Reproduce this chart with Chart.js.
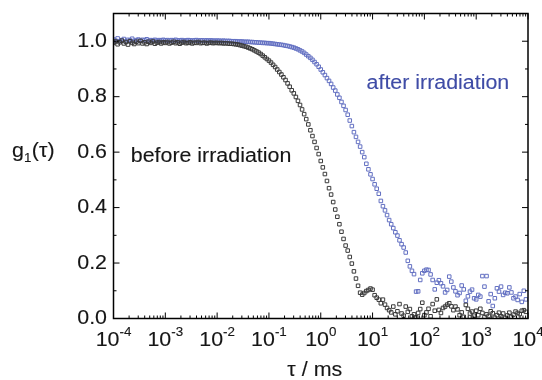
<!DOCTYPE html>
<html>
<head>
<meta charset="utf-8">
<script src="https://cdn.jsdelivr.net/npm/chart.js@4.4.1/dist/chart.umd.min.js"></script>
<style>
  html, body { margin: 0; padding: 0; background: #fff; }
  canvas { display: block; }
</style>
</head>
<body>
<canvas id="c" width="542" height="380"></canvas>
<script>
// ---- DATA ----
// correlator lag times tau / ms
const tau = [
  1.000e-4,1.096e-4,1.202e-4,1.318e-4,1.445e-4,1.585e-4,1.738e-4,1.905e-4,2.089e-4,2.291e-4,2.512e-4,2.754e-4,3.020e-4,3.311e-4,3.631e-4,3.981e-4,4.365e-4,4.786e-4,5.248e-4,5.754e-4,6.310e-4,6.918e-4,7.586e-4,8.318e-4,9.120e-4,
  1.000e-3,1.096e-3,1.202e-3,1.318e-3,1.445e-3,1.585e-3,1.738e-3,1.905e-3,2.089e-3,2.291e-3,2.512e-3,2.754e-3,3.020e-3,3.311e-3,3.631e-3,3.981e-3,4.365e-3,4.786e-3,5.248e-3,5.754e-3,6.310e-3,6.918e-3,7.586e-3,8.318e-3,9.120e-3,
  1.000e-2,1.096e-2,1.202e-2,1.318e-2,1.445e-2,1.585e-2,1.738e-2,1.905e-2,2.089e-2,2.291e-2,2.512e-2,2.754e-2,3.020e-2,3.311e-2,3.631e-2,3.981e-2,4.365e-2,4.786e-2,5.248e-2,5.754e-2,6.310e-2,6.918e-2,7.586e-2,8.318e-2,9.120e-2,
  1.000e-1,1.096e-1,1.202e-1,1.318e-1,1.445e-1,1.585e-1,1.738e-1,1.905e-1,2.089e-1,2.291e-1,2.512e-1,2.754e-1,3.020e-1,3.311e-1,3.631e-1,3.981e-1,4.365e-1,4.786e-1,5.248e-1,5.754e-1,6.310e-1,6.918e-1,7.586e-1,8.318e-1,9.120e-1,
  1.000,1.096,1.202,1.318,1.445,1.585,1.738,1.905,2.089,2.291,2.512,2.754,3.020,3.311,3.631,3.981,4.365,4.786,5.248,5.754,6.310,6.918,7.586,8.318,9.120,
  10.00,10.96,12.02,13.18,14.45,15.85,17.38,19.05,20.89,22.91,25.12,27.54,30.20,33.11,36.31,39.81,43.65,47.86,52.48,57.54,63.10,69.18,75.86,83.18,91.20,
  100.0,109.6,120.2,131.8,144.5,158.5,173.8,190.5,208.9,229.1,251.2,275.4,302.0,331.1,363.1,398.1,436.5,478.6,524.8,575.4,631.0,691.8,758.6,831.8,912.0,
  1000,1096,1202,1318,1445,1585,1738,1905,2089,2291,2512,2754,3020,3311,3631,3981,4365,4786,5248,5754,6310,6918,7586,8318,9120
];

// g1(tau) before irradiation (black squares)
const gBefore = [
  0.994,0.999,0.989,0.996,1.002,0.992,0.997,0.988,1.000,0.994,0.990,0.998,0.993,1.001,0.992,0.996,0.990,0.998,0.994,0.999,0.991,0.995,0.997,0.992,0.996,
  0.994,0.997,0.992,0.995,0.998,0.993,0.996,0.991,0.995,0.997,0.993,0.994,0.996,0.992,0.995,0.994,0.997,0.993,0.994,0.995,0.992,0.994,0.995,0.993,0.994,
  0.994,0.993,0.994,0.992,0.993,0.992,0.991,0.991,0.990,0.989,0.988,0.986,0.984,0.982,0.980,0.977,0.974,0.971,0.967,0.963,0.959,0.954,0.948,0.942,0.936,
  0.930,0.923,0.915,0.907,0.898,0.889,0.880,0.870,0.860,0.848,0.836,0.823,0.812,0.799,0.785,0.770,0.754,0.737,0.719,0.700,0.679,0.658,0.637,0.615,0.593,
  0.568,0.545,0.521,0.496,0.470,0.447,0.420,0.393,0.367,0.340,0.313,0.287,0.263,0.245,0.222,0.198,0.170,0.144,0.118,0.093,0.086,0.092,0.099,0.103,0.108,
  0.104,0.084,0.075,0.068,0.055,0.068,0.050,0.038,0.030,0.022,0.043,0.015,0.026,0.052,0.018,0.010,0.043,0.024,0.034,0.008,0.015,0.004,0.020,0.034,0.057,
  0.012,0.022,0.035,0.008,0.052,0.028,0.069,0.031,0.020,0.038,0.043,0.050,0.055,0.044,0.030,0.043,0.033,0.012,0.022,0.006,0.049,0.035,0.018,0.025,0.010,
  0.028,0.012,0.035,0.020,0.005,0.015,0.009,0.026,0.019,0.003,0.012,0.021,0.008,0.018,0.002,0.011,0.021,0.006,0.014,0.025,0.020,0.016,0.028,0.030,0.024
];

// g1(tau) after irradiation (blue squares)
const gAfter = [
  1.006,1.002,1.010,1.000,1.004,1.008,0.999,1.005,1.003,1.009,1.001,1.004,1.006,1.002,1.005,1.003,1.007,1.001,1.004,1.003,1.005,1.002,1.004,1.003,1.005,
  1.003,1.004,1.002,1.004,1.003,1.005,1.002,1.003,1.004,1.002,1.003,1.004,1.003,1.002,1.003,1.004,1.002,1.003,1.003,1.002,1.003,1.002,1.003,1.002,1.002,
  1.002,1.002,1.001,1.002,1.001,1.001,1.001,1.000,1.000,1.000,0.999,0.999,0.999,0.998,0.998,0.998,0.997,0.997,0.996,0.996,0.995,0.995,0.994,0.994,0.993,
  0.993,0.992,0.991,0.990,0.989,0.988,0.987,0.986,0.984,0.983,0.981,0.979,0.977,0.974,0.971,0.967,0.963,0.958,0.952,0.946,0.940,0.933,0.925,0.917,0.908,
  0.898,0.888,0.878,0.867,0.857,0.846,0.833,0.822,0.808,0.796,0.781,0.767,0.752,0.735,0.714,0.694,0.672,0.655,0.637,0.620,0.600,0.582,0.558,0.538,0.520,
  0.503,0.484,0.468,0.450,0.424,0.405,0.390,0.373,0.355,0.340,0.326,0.311,0.299,0.282,0.268,0.256,0.238,0.208,0.188,0.172,0.160,0.097,0.098,0.139,0.163,
  0.172,0.176,0.175,0.159,0.139,0.105,0.129,0.138,0.127,0.116,0.094,0.103,0.151,0.133,0.112,0.098,0.084,0.092,0.119,0.105,0.064,0.080,0.097,0.104,0.073,
  0.069,0.085,0.079,0.153,0.115,0.153,0.062,0.088,0.045,0.073,0.109,0.097,0.115,0.085,0.093,0.091,0.112,0.094,0.073,0.079,0.067,0.088,0.060,0.100,0.069
];

// axis ticks / labels
const xTickExponents = [-4, -3, -2, -1, 0, 1, 2, 3, 4];
const yTicks = [0.0, 0.2, 0.4, 0.6, 0.8, 1.0];
const yTickLabels = ['0.0', '0.2', '0.4', '0.6', '0.8', '1.0'];
const yMinorTicks = [0.1, 0.3, 0.5, 0.7, 0.9];
const xMin = 1e-4, xMax = 1e4, yMin = 0, yMax = 1.1;

const seriesNames = ['before irradiation', 'after irradiation'];
const xTitle = 'τ / ms';

// ---- STYLE ----
const FONT = '"Liberation Sans", Arial, Helvetica, sans-serif';
const SX = 1.07;         // horizontal stretch of the reference text
const BLACK = '#3a3a3a';
const BLUE_PT = '#6370c2';
const BLUE_TXT = '#3f4ca6';
const TXT = '#161616';

function drawText(ctx, s, x, y, size, align, color, baseline) {
  ctx.save();
  ctx.font = size + 'px ' + FONT;
  ctx.fillStyle = color;
  ctx.strokeStyle = color;
  ctx.lineWidth = 0.12;
  ctx.textBaseline = baseline || 'alphabetic';
  ctx.textAlign = 'left';
  const w = ctx.measureText(s).width * SX;
  const x0 = align === 'center' ? x - w / 2 : (align === 'right' ? x - w : x);
  ctx.translate(x0, y);
  ctx.scale(SX, 1);
  ctx.fillText(s, 0, 0);
  ctx.strokeText(s, 0, 0);
  ctx.restore();
  return w;
}
function textWidth(ctx, s, size) {
  ctx.save();
  ctx.font = size + 'px ' + FONT;
  const w = ctx.measureText(s).width * SX;
  ctx.restore();
  return w;
}

const framePlugin = {
  id: 'frameAndLabels',
  afterDatasetsDraw(chart) {
    const ctx = chart.ctx;
    const a = chart.chartArea;
    const xs = chart.scales.x, ys = chart.scales.y;
    ctx.save();
    ctx.strokeStyle = '#000';
    ctx.lineWidth = 1;
    const seg = (x1, y1, x2, y2) => { ctx.beginPath(); ctx.moveTo(x1, y1); ctx.lineTo(x2, y2); ctx.stroke(); };

    // x ticks (inward, bottom and top)
    for (let i = 0; i < xTickExponents.length; i++) {
      const k = xTickExponents[i];
      for (let m = 1; m <= 9; m++) {
        const v = m * Math.pow(10, k);
        if (v > xMax * 1.0001) break;
        const px = xs.getPixelForValue(v);
        const len = m === 1 ? 6 : 3;
        seg(px, a.bottom, px, a.bottom - len);
        seg(px, a.top, px, a.top + len);
      }
    }
    // y ticks (inward, left and right)
    yTicks.forEach(v => {
      const py = ys.getPixelForValue(v);
      seg(a.left, py, a.left + 6, py);
      seg(a.right, py, a.right - 6, py);
    });
    yMinorTicks.forEach(v => {
      const py = ys.getPixelForValue(v);
      seg(a.left, py, a.left + 3, py);
      seg(a.right, py, a.right - 3, py);
    });

    // frame
    ctx.lineWidth = 1.5;
    ctx.strokeRect(a.left, a.top, a.right - a.left, a.bottom - a.top);
    ctx.restore();

    // y tick labels
    yTicks.forEach((v, i) => {
      drawText(ctx, yTickLabels[i], a.left - 6.5, ys.getPixelForValue(v), 20, 'right', TXT, 'middle');
    });
    // x tick labels 10^k
    xTickExponents.forEach(k => {
      const px = xs.getPixelForValue(Math.pow(10, k));
      const e = String(k);
      const wb = textWidth(ctx, '10', 20);
      const we = textWidth(ctx, e, 12.5);
      const x0 = px - (wb + we) / 2;
      drawText(ctx, '10', x0, a.bottom + 27, 20, 'left', TXT);
      drawText(ctx, e, x0 + wb, a.bottom + 17.5, 12.5, 'left', TXT);
    });
    // axis titles
    drawText(ctx, xTitle, (a.left + a.right) / 2 - 6, a.bottom + 57, 20, 'center', TXT);
    const gx = 12, gy = ys.getPixelForValue(0.6) + 5;
    let w = drawText(ctx, 'g', gx, gy, 20, 'left', TXT);
    w += drawText(ctx, '1', gx + w, gy + 5, 12.5, 'left', TXT);
    drawText(ctx, '(τ)', gx + w + 0.5, gy, 20, 'left', TXT);

    // series labels in the plot
    drawText(ctx, seriesNames[0], xs.getPixelForValue(2.15e-4), ys.getPixelForValue(0.565), 20, 'left', TXT);
    drawText(ctx, seriesNames[1], xs.getPixelForValue(7.65), ys.getPixelForValue(0.827), 20, 'left', BLUE_TXT);
  }
};

const before = tau.map((t, i) => ({ x: t, y: gBefore[i] }));
const after = tau.map((t, i) => ({ x: t, y: gAfter[i] }));

new Chart(document.getElementById('c'), {
  type: 'scatter',
  data: {
    datasets: [
      { label: seriesNames[0], data: before, pointStyle: 'rect', pointRadius: 2.5,
        pointBorderWidth: 1, pointBorderColor: BLACK, pointBackgroundColor: 'rgba(0,0,0,0)', showLine: false },
      { label: seriesNames[1], data: after, pointStyle: 'rect', pointRadius: 2.5,
        pointBorderWidth: 1, pointBorderColor: BLUE_PT, pointBackgroundColor: 'rgba(0,0,0,0)', showLine: false }
    ]
  },
  options: {
    responsive: false,
    devicePixelRatio: 1,
    animation: false,
    layout: { padding: { left: 0, right: 14, top: 13.5, bottom: 0 } },
    plugins: { legend: { display: false }, tooltip: { enabled: false } },
    scales: {
      x: {
        type: 'logarithmic', min: xMin, max: xMax,
        grid: { display: false }, border: { display: false },
        ticks: { display: false },
        afterFit(s) { s.height = 61.5; }
      },
      y: {
        type: 'linear', min: yMin, max: yMax,
        grid: { display: false }, border: { display: false },
        ticks: { display: false },
        afterFit(s) { s.width = 113.5; }
      }
    }
  },
  plugins: [framePlugin]
});
</script>
</body>
</html>
